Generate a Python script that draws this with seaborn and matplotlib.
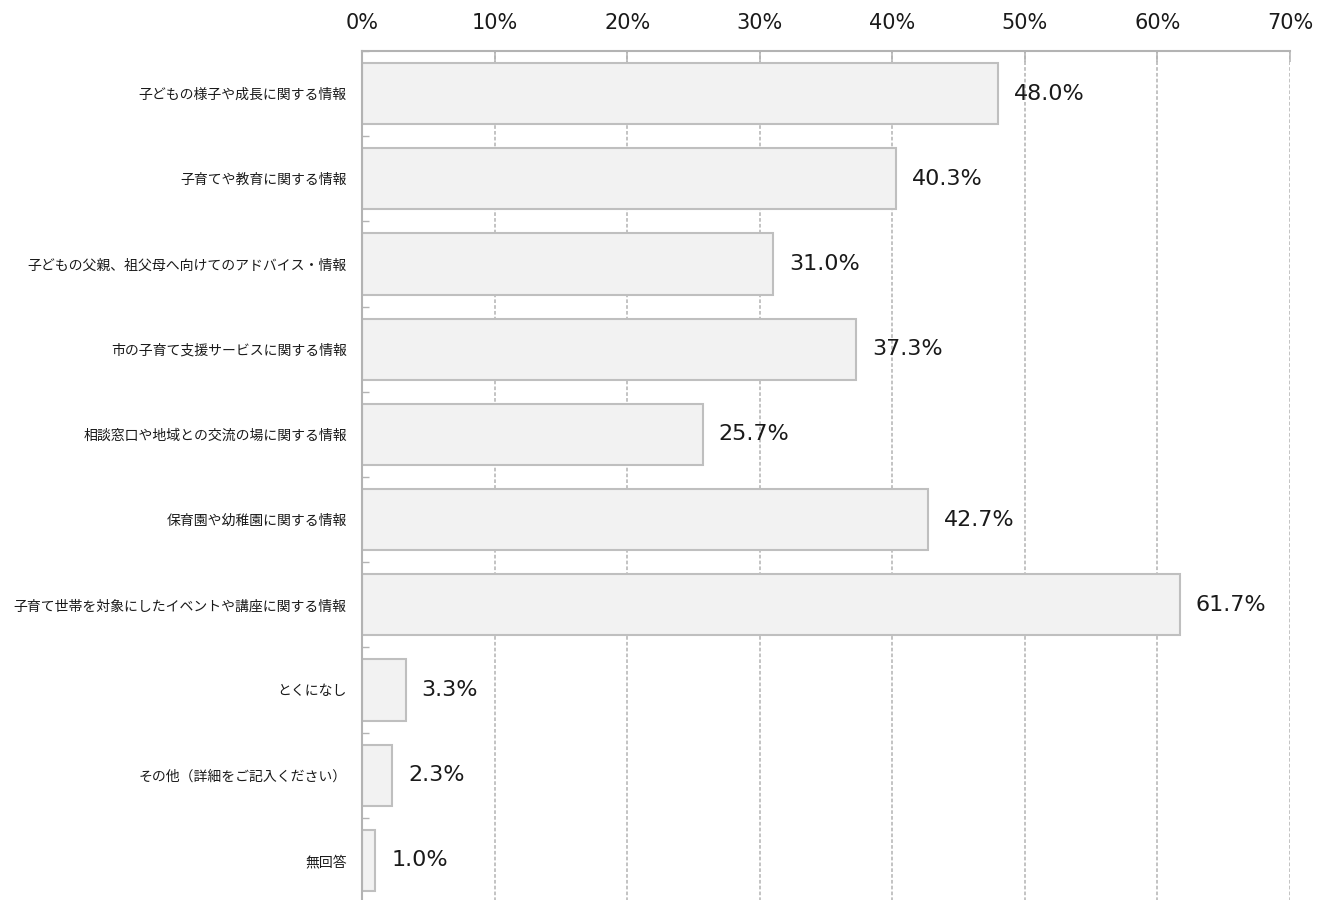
import matplotlib
matplotlib.use("Agg")
import matplotlib.pyplot as plt
import seaborn as sns
import pandas as pd
from matplotlib.ticker import FixedLocator, PercentFormatter

categories = [
    "子どもの様子や成長に関する情報",
    "子育てや教育に関する情報",
    "子どもの父親、祖父母へ向けてのアドバイス・情報",
    "市の子育て支援サービスに関する情報",
    "相談窓口や地域との交流の場に関する情報",
    "保育園や幼稚園に関する情報",
    "子育て世帯を対象にしたイベントや講座に関する情報",
    "とくになし",
    "その他（詳細をご記入ください）",
    "無回答",
]
values = [48.0, 40.3, 31.0, 37.3, 25.7, 42.7, 61.7, 3.3, 2.3, 1.0]
x_ticks = [0, 10, 20, 30, 40, 50, 60, 70]

sns.set_theme(style="white")
plt.rcParams["font.family"] = ["Noto Sans CJK JP", "DejaVu Sans"]

df = pd.DataFrame({"category": categories, "value": values})

fig = plt.figure(figsize=(13.27, 9.0), dpi=100)
ax = fig.add_axes([362 / 1327, -3 / 900, (1290 - 362) / 1327, (903 - 51) / 900])

grid_color = "#b3b3b3"
for t in x_ticks[1:]:
    ax.axvline(t, color=grid_color, lw=1.1, linestyle=(0, (2.4, 1.4)), zorder=0)

sns.barplot(data=df, x="value", y="category", orient="h", order=categories,
            color="#f2f2f2", edgecolor="#bfbfbf", linewidth=1.5,
            width=0.72, saturation=1, ax=ax, zorder=2)

ax.set_xlim(0, 70)
ax.set_ylim(len(categories) - 0.5, -0.5)
ax.xaxis.set_major_locator(FixedLocator(x_ticks))
ax.xaxis.set_major_formatter(PercentFormatter(decimals=0))
ax.xaxis.tick_top()
ax.tick_params(axis="x", which="major", top=True, bottom=False, direction="in",
               length=8, width=1.1, color=grid_color, pad=13,
               labelsize=15, labelcolor="#1a1a1a")
for lab in ax.get_xticklabels():
    lab.set_fontfamily(["DejaVu Sans"])

ax.set_xlabel("")
ax.set_ylabel("")
ax.set_yticks(range(len(categories)))
ax.set_yticklabels(categories, fontsize=10, color="#1a1a1a")
ax.tick_params(axis="y", which="major", left=False, length=0, pad=11)
# short separators between categories on the value axis
ax.set_yticks([i + 0.5 for i in range(-1, len(categories) - 1)], minor=True)
ax.tick_params(axis="y", which="minor", left=True, direction="in",
               length=5, width=1.0, color=grid_color)

for side in ["right", "bottom"]:
    ax.spines[side].set_visible(False)
for side in ["left", "top"]:
    ax.spines[side].set_color(grid_color)
    ax.spines[side].set_linewidth(1.5)
    ax.spines[side].set_zorder(3)

for i, v in enumerate(values):
    ax.annotate(f"{v:.1f}%", xy=(v, i), xytext=(11.5, 0), textcoords="offset points",
                ha="left", va="center", fontsize=16, color="#1a1a1a",
                family=["DejaVu Sans"], zorder=4)

fig.savefig("out.png", dpi=100)
